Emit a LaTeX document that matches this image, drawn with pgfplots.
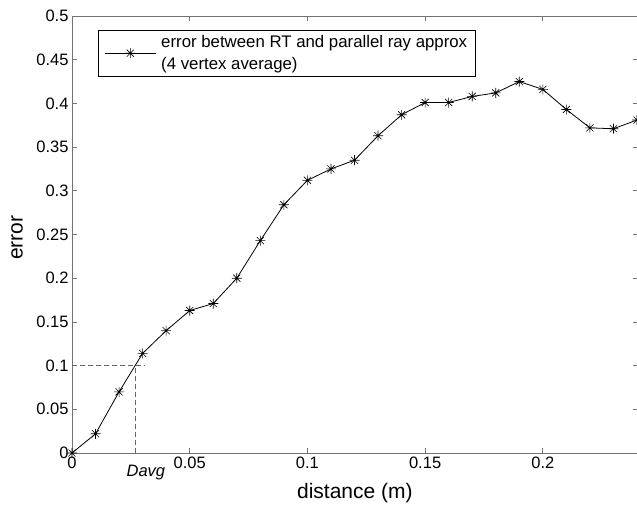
\documentclass[border=0pt]{standalone}
\usepackage{fontspec}
\setmainfont{Liberation Sans}
\usepackage{pgfplots}
\pgfplotsset{compat=1.18}
\pgfdeclareplotmark{mstar}{%
  \pgfpathmoveto{\pgfqpoint{-\pgfplotmarksize}{0pt}}\pgfpathlineto{\pgfqpoint{\pgfplotmarksize}{0pt}}%
  \pgfpathmoveto{\pgfqpoint{0pt}{-\pgfplotmarksize}}\pgfpathlineto{\pgfqpoint{0pt}{\pgfplotmarksize}}%
  \pgfpathmoveto{\pgfqpoint{-0.7071\pgfplotmarksize}{-0.7071\pgfplotmarksize}}\pgfpathlineto{\pgfqpoint{0.7071\pgfplotmarksize}{0.7071\pgfplotmarksize}}%
  \pgfpathmoveto{\pgfqpoint{-0.7071\pgfplotmarksize}{0.7071\pgfplotmarksize}}\pgfpathlineto{\pgfqpoint{0.7071\pgfplotmarksize}{-0.7071\pgfplotmarksize}}%
  \pgfusepathqstroke}
\begin{document}
\begin{tikzpicture}
\begin{axis}[
  scale only axis, width=565.7pt, height=437pt,
  xmin=0, xmax=0.2403, ymin=0, ymax=0.5,
  xtick={0,0.05,0.1,0.15,0.2},
  ytick={0,0.05,0.1,0.15,0.2,0.25,0.3,0.35,0.4,0.45,0.5},
  scaled ticks=false,
  /pgf/number format/fixed, /pgf/number format/precision=2,
  /pgf/number format/assume math mode=true,
  tick label style={font=\fontsize{16.5}{20}\selectfont},
  axis line style={black!55, line width=0.8pt},
  every tick/.style={black!55, line width=0.8pt},
  major tick length=5pt,
  xlabel={distance (m)}, ylabel={error},
  label style={font=\fontsize{21}{25}\selectfont},
  xlabel style={at={(rel axis cs:0.5,0)}, anchor=center, yshift=-40pt},
  ylabel style={at={([xshift=-55pt]rel axis cs:0,0.493)}, anchor=center},
  clip=false,
  legend style={at={(rel axis cs:0.046,0.968)}, anchor=north west, draw=black, line width=0.8pt,
    inner xsep=6pt, inner ysep=3pt,
    font=\fontsize{16.8}{22}\selectfont, cells={anchor=west, align=left},
    /tikz/every odd column/.append style={column sep=3pt}},
  legend cell align=left,
  legend image code/.code={\draw[mark repeat=2,mark phase=2,#1] plot coordinates {(0pt,0pt)(25.5pt,0pt)(51pt,0pt)};},
]
\addplot[black, line width=0.8pt, mark=mstar, mark size=5pt, mark options={line width=0.6pt}] coordinates {
(0,0) (0.01,0.022) (0.02,0.070) (0.03,0.114) (0.04,0.140) (0.05,0.163) (0.06,0.171)
(0.07,0.200) (0.08,0.243) (0.09,0.284) (0.10,0.312) (0.11,0.325) (0.12,0.335)
(0.13,0.363) (0.14,0.387) (0.15,0.401) (0.16,0.401) (0.17,0.408) (0.18,0.412)
(0.19,0.425) (0.20,0.416) (0.21,0.393) (0.22,0.372) (0.23,0.371) (0.24,0.381)};
\addlegendentry{error between RT and parallel ray approx\\(4 vertex average)}
\addplot[black!60, line width=0.8pt, dash pattern=on 5pt off 3pt, forget plot] coordinates {(0,0.1) (0.031,0.1)};
\addplot[black!60, line width=0.8pt, dash pattern=on 5pt off 3pt, forget plot] coordinates {(0.0271,0) (0.0271,0.1)};
\node[font=\itshape\fontsize{16.5}{20}\selectfont, anchor=center] at ([yshift=-20pt]axis cs:0.0314,0) {Davg};
\coordinate (o) at (axis cs:0,0);
\coordinate (c) at (axis cs:0.24,0.5);
\end{axis}
\pgfresetboundingbox
\useasboundingbox ([xshift=-72pt,yshift=-55pt]o) rectangle ([yshift=16pt]c);
\end{tikzpicture}
\end{document}
